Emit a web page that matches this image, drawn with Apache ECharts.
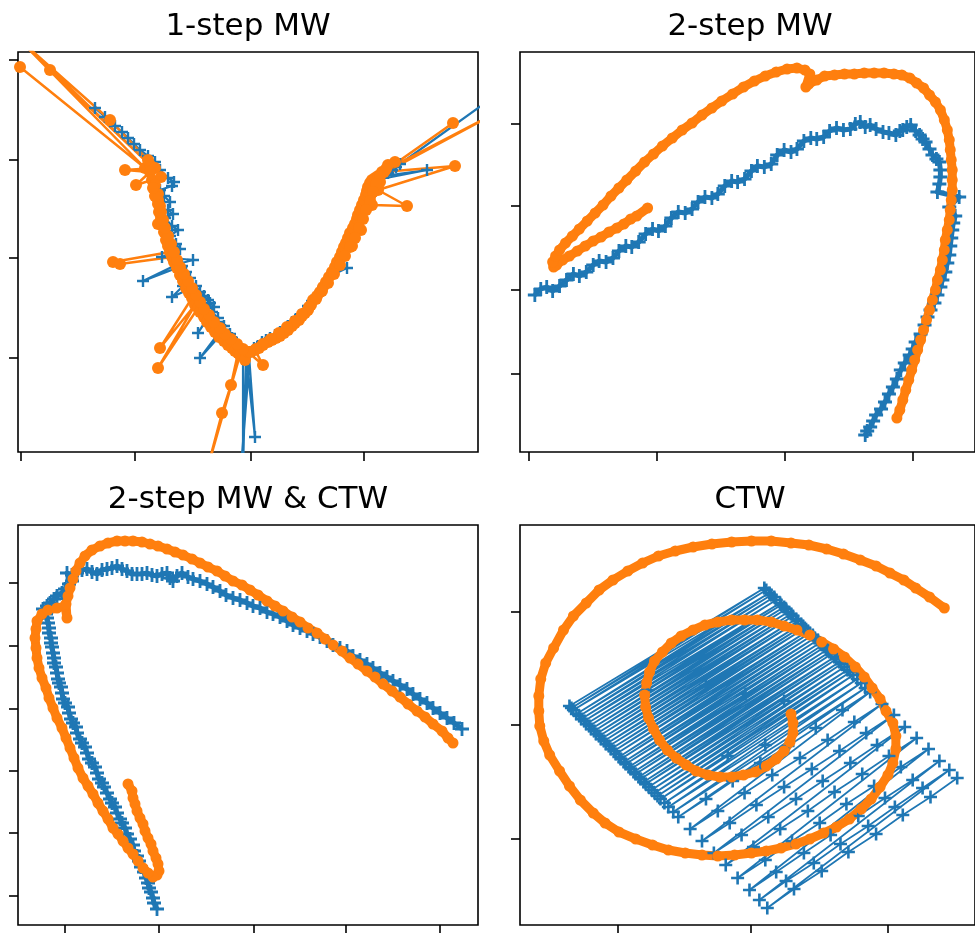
<!DOCTYPE html>
<html>
<head>
<meta charset="utf-8">
<title>MW / CTW</title>
<script src="https://cdn.jsdelivr.net/npm/echarts@6/dist/echarts.min.js"></script>
<style>
  html, body { margin: 0; padding: 0; background: #fff; }
  #main { width: 975px; height: 933px; }
</style>
</head>
<body>
<div id="main"></div>
<script>
// values, in panel units (x from the left frame, y up from the bottom frame)

// 1-step MW
var oneStepXTicks = [2.7, 117, 232.7, 346];
var oneStepYTicks = [94.3, 194.3, 292.7, 392];
var oneStepBlue = [[77,344],[87,335],[97,326],[104,320],[110,314],[116,308],[122,302],[130,296],[137,290],[142,282],[150,274],[156,270],[154,266],[142,262],[146,256],[152,250],[150,242],[155,238],[147,234],[154,226],[160,222],[152,216],[158,208],[162,203],[144,195],[175,192],[160,188],[125,171],[164,186],[168,180],[172,174],[165,166],[154,155],[178,166],[182,160],[186,156],[190,152],[192,149],[196,145],[180,119],[194,140],[200,134],[200,130],[206,126],[182,94],[207,122],[212,118],[214,114],[218,110],[220,107],[224,103],[225,100],[225,-18],[228,96],[237,15],[231,97],[223,-18],[232,100],[236,104],[240,106],[244,110],[248,112],[252,114],[257,117],[262,120],[266,122],[270,126],[274,130],[278,133],[282,137],[286,141],[290,146],[294,151],[298,156],[302,160],[305,165],[309,170],[312,176],[329,184],[318,186],[321,191],[324,196],[327,201],[330,206],[333,212],[335,218],[337,224],[339,230],[342,236],[344,242],[346,248],[348,254],[350,259],[352,264],[355,268],[358,272],[409,282],[365,276],[370,279],[374,282],[378,285],[382,288],[467,349]];
var oneStepOrange = [[2,385],[127,284],[-8,422],[132,287],[32,382],[2,412],[92,332],[130,292],[137,284],[107,282],[132,280],[118,267],[134,272],[143,275],[137,267],[140,258],[140,252],[142,246],[141,240],[143,234],[140,228],[144,227],[146,220],[148,212],[150,206],[152,200],[95,190],[102,188],[154,195],[156,190],[159,184],[162,177],[165,171],[168,164],[171,159],[174,154],[142,104],[177,147],[140,84],[180,144],[182,140],[186,135],[189,130],[193,125],[197,120],[201,115],[206,111],[210,107],[214,104],[217,101],[220,99],[213,67],[204,39],[189,-18],[222,97],[227,92],[230,100],[245,87],[237,102],[241,104],[245,107],[250,110],[254,112],[258,114],[262,116],[266,119],[270,122],[274,126],[277,129],[281,132],[284,136],[287,139],[290,142],[293,147],[295,152],[299,156],[302,160],[305,165],[308,170],[311,175],[314,180],[317,185],[319,190],[322,195],[324,200],[326,205],[328,209],[334,206],[330,214],[332,219],[335,224],[343,222],[337,228],[339,233],[340,237],[342,242],[349,245],[344,247],[346,252],[348,257],[349,261],[350,265],[352,269],[354,272],[435,329],[357,274],[467,333],[360,276],[472,336],[364,280],[437,286],[360,262],[389,246],[354,247],[362,270],[366,280],[370,287],[377,290],
  [368,283],[362,276],[358,268],[355,260],[352,251],[348,242],[345,233],[341,224],[337,214],[332,205],[327,196],[322,187],[316,178],[310,169],[304,161],[298,153],[291,145],[284,138],[277,131],[269,125],[261,119],[253,113],[245,108],[238,103],[232,100],[225,103],[219,108],[213,113],[207,118],[202,124],[196,130],[191,137],[186,143],[182,150],[178,157],[174,164],[170,171],[166,178],[162,185],[159,192],[156,200],[153,208],[150,216],[147,224],[145,232],[143,240],[140,248],[137,256],[135,264]];

// 2-step MW
var twoStepXTicks = [9.3, 138.7, 268, 397];
var twoStepYTicks = [78.7, 162, 246, 328.7];
var twoStepBlue = [[15,157],[21,163],[27,165],[33,161],[40,166],[47,172],[54,178],[60,176],[67,180],[74,187],[80,191],[87,190],[94,194],[100,201],[107,206],[113,205],[120,210],[127,218],[134,223],[140,221],[147,226],[153,234],[160,240],[167,239],[174,243],[180,250],[187,255],[194,254],[200,258],[207,266],[214,271],[220,270],[227,273],[234,281],[240,286],[247,285],[254,288],[260,297],[267,302],[274,300],[280,303],[287,311],[294,314],[300,313],[307,315],[313,321],[320,324],[327,322],[334,323],[339,328],[344,330],[349,325],[354,327],[360,323],[367,320],[373,319],[380,317],[384,321],[387,322],[391,325],[395,327],[400,321],[404,317],[407,313],[410,310],[414,303],[417,297],[421,293],[424,290],[425,282],[425,275],[424,268],[422,260],[444,255],[434,245],[440,236],[438,229],[437,222],[436,214],[435,206],[434,197],[432,189],[430,180],[427,172],[425,165],[422,157],[419,149],[415,142],[412,135],[409,127],[405,118],[400,110],[397,103],[394,97],[389,89],[385,82],[381,73],[377,65],[373,58],[369,50],[365,43],[360,37],[357,31],[354,25],[351,21],[349,17]];
var twoStepOrange = [[129,244],[118,236],[112,233],[105,228],[98,224],[90,220],[82,215],[74,211],[66,206],[58,201],[50,196],[43,192],[37,187],[34,185],[33,190],[36,196],[40,202],[46,209],[53,216],[60,223],[68,231],[76,239],[84,247],[92,256],[100,264],[108,272],[117,281],[126,290],[135,298],[144,306],[154,314],[164,322],[174,329],[184,337],[194,344],[204,351],[215,358],[226,365],[237,371],[248,376],[259,380],[270,383],[280,384],[288,382],[293,378],[289,365],[292,368],[300,372],[308,376],[318,377],[328,378],[338,378],[348,379],[358,379],[368,379],[378,378],[386,377],[394,374],[401,369],[408,364],[414,357],[420,350],[425,342],[429,332],[432,322],[434,312],[435,302],[436,292],[437,282],[437,272],[437,262],[436,252],[435,242],[434,232],[432,222],[430,212],[429,202],[427,192],[425,182],[422,172],[420,162],[417,152],[414,142],[411,132],[408,122],[405,112],[402,102],[399,92],[396,82],[393,72],[390,62],[387,52],[384,42],[381,34]];

// 2-step MW & CTW
var comboXTicks = [46.3, 140.3, 235.3, 327.7, 421.3];
var comboYTicks = [29, 92.3, 154, 216.7, 279, 342.3];
var comboBlue = [[139,16],[136,22],[135,27],[133,33],[131,37],[130,42],[128,47],[126,53],[123,58],[121,64],[119,69],[116,74],[115,80],[112,86],[109,91],[107,97],[104,102],[102,106],[99,112],[97,118],[94,122],[92,126],[89,132],[86,138],[84,142],[81,146],[79,152],[77,158],[74,162],[71,166],[69,172],[67,178],[64,182],[62,186],[59,192],[58,198],[55,202],[53,206],[51,212],[50,218],[47,222],[45,226],[44,232],[43,238],[41,242],[40,246],[39,252],[38,258],[36,262],[36,267],[35,272],[34,278],[33,282],[33,287],[31,292],[31,297],[30,302],[29,307],[28,311],[25,316],[29,319],[32,322],[36,326],[39,329],[44,332],[47,336],[51,341],[54,344],[49,352],[54,350],[59,352],[64,355],[69,356],[74,353],[79,351],[84,355],[89,356],[94,357],[99,359],[104,356],[109,354],[114,351],[119,351],[124,351],[129,352],[134,350],[139,349],[144,351],[149,352],[152,347],[155,344],[159,349],[164,352],[170,348],[175,346],[182,344],[189,341],[195,338],[202,334],[208,330],[215,327],[222,325],[229,322],[235,319],[242,317],[249,313],[255,311],[262,308],[269,304],[275,300],[282,297],[289,294],[295,291],[302,288],[309,284],[315,280],[322,277],[329,274],[335,269],[342,265],[349,261],[355,257],[362,252],[369,248],[375,244],[382,240],[389,236],[395,231],[402,226],[409,222],[415,217],[422,212],[429,207],[436,202],[444,196]];
var comboOrange = [[110,141],[114,134],[115,127],[117,121],[119,114],[122,107],[125,101],[127,94],[130,87],[133,81],[135,74],[138,67],[140,61],[141,54],[139,50],[135,48],[130,52],[125,57],[120,64],[115,71],[110,77],[105,84],[100,91],[95,97],[90,106],[85,114],[80,122],[75,131],[70,139],[65,147],[60,157],[56,167],[52,177],[48,187],[44,197],[39,207],[35,217],[31,227],[28,237],[24,247],[21,257],[19,267],[18,277],[17,287],[18,296],[19,304],[24,311],[30,315],[39,317],[47,319],[49,307],[48,321],[50,329],[52,337],[55,346],[58,354],[62,362],[67,369],[74,375],[82,379],[90,382],[99,384],[107,384],[115,384],[124,383],[132,381],[140,379],[149,376],[157,373],[165,370],[174,366],[182,362],[190,358],[199,354],[207,349],[215,344],[224,340],[232,335],[240,330],[249,324],[257,319],[265,314],[274,308],[282,303],[290,297],[299,292],[307,286],[315,280],[324,274],[332,267],[340,261],[349,254],[357,248],[365,241],[374,234],[382,228],[390,221],[399,214],[407,208],[415,201],[424,194],[430,187],[435,182]];

// CTW
var ctwXTicks = [98.7, 233.7, 371.3];
var ctwYTicks = [86.3, 200, 313.3];
var ctwBlue = [[50,219],[247,337],[52,217],[249,335],[54,215],[252,332],[57,211],[254,330],[60,209],[257,328],[62,206],[259,325],[65,204],[263,322],[67,201],[264,320],[70,199],[129,235],[267,318],[72,196],[269,316],[75,194],[271,313],[77,191],[274,311],[80,189],[276,309],[82,186],[279,306],[85,184],[281,304],[87,181],[284,301],[90,179],[188,239],[286,299],[92,176],[288,297],[95,174],[291,294],[97,171],[293,292],[100,168],[296,290],[102,166],[298,287],[105,163],[301,285],[107,161],[303,282],[110,158],[228,231],[306,280],[112,156],[308,278],[115,153],[310,275],[117,151],[313,273],[120,148],[315,271],[122,146],[318,268],[125,143],[320,266],[127,141],[323,263],[130,138],[267,224],[325,261],[133,135],[328,258],[136,132],[331,255],[139,129],[334,253],[142,126],[210,169],[337,250],[146,122],[341,246],[150,118],[248,180],[345,242],[155,113],[349,237],
  [160,108],[188,126],[215,144],[243,162],[271,179],[299,197],[326,215],[354,233],
  [172,96],[200,114],[227,132],[255,150],[283,167],[311,185],[338,203],[366,221],
  [184,84],[212,102],[239,120],[267,138],[295,156],[323,174],[350,192],[378,210],
  [196,72],[224,90],[251,108],[279,126],[306,144],[334,162],[361,180],[389,198],
  [208,60],[236,78],[263,96],[291,114],[318,133],[346,151],[373,169],[401,187],
  [220,47],[248,65],[275,84],[303,102],[330,121],[358,139],[385,158],[413,176],
  [232,35],[259,53],[287,72],[314,90],[342,109],[369,127],[397,145],[424,164],
  [242,25],[269,44],[297,62],[324,81],[352,99],[379,118],[407,137],[434,155],
  [250,17],[277,36],[305,54],[332,73],[360,91],[387,110],[415,128],[442,147]];
var ctwOrange = [[274,211],[276,202],[276,192],[273,183],[267,174],[259,166],[249,159],[238,153],[226,150],[214,148],[202,148],[190,150],[178,154],[168,160],[158,167],[149,175],[141,185],[135,196],[130,207],[127,218],[126,230],[128,242],[131,253],[136,264],[144,273],[153,282],[163,289],[175,295],[187,300],[200,303],[214,305],[227,305],[240,305],[254,303],[267,299],[280,295],[293,290],[305,283],[317,276],[328,268],[339,258],[348,248],[356,237],[364,226],[370,214],[377,202],[380,189],[380,176],[377,162],[372,150],[364,138],[355,126],[345,116],[333,106],[320,98],[307,92],[293,86],[279,81],[264,77],[249,74],[234,72],[217,70],[200,69],[184,70],[167,72],[150,75],[134,80],[117,86],[100,93],[86,102],[74,112],[61,125],[50,139],[40,154],[30,170],[24,184],[20,199],[19,214],[19,229],[21,246],[26,262],[34,277],[44,295],[54,309],[67,322],[80,335],[94,345],[109,354],[124,362],[140,369],[157,374],[175,378],[194,381],[214,383],[234,384],[254,384],[274,382],[292,380],[310,376],[327,371],[344,365],[360,359],[374,352],[388,345],[400,337],[414,328],[429,317]];

var plusMark = 'path://M-1,-0.2L1,-0.2L1,0.2L-1,0.2ZM-0.2,-1L0.2,-1L0.2,1L-0.2,1Z';

var panels = [
  {title: '1-step MW', left: 18, top: 52, xt: oneStepXTicks, yt: oneStepYTicks, blue: oneStepBlue, orange: oneStepOrange, bw: 2.2, ow: 2.5, bs: 12, os: 12},
  {title: '2-step MW', left: 520, top: 52, xt: twoStepXTicks, yt: twoStepYTicks, blue: twoStepBlue, orange: twoStepOrange, bw: 5, ow: 9, bs: 14, os: 11},
  {title: '2-step MW & CTW', left: 18, top: 525, xt: comboXTicks, yt: comboYTicks, blue: comboBlue, orange: comboOrange, bw: 5, ow: 9, bs: 14, os: 11},
  {title: 'CTW', left: 520, top: 525, xt: ctwXTicks, yt: ctwYTicks, blue: ctwBlue, orange: ctwOrange, bw: 1.7, ow: 9, bs: 13, os: 11}
];

var grids = [], xAxes = [], yAxes = [], series = [], titles = [];
panels.forEach(function (p, i) {
  titles.push({
    text: p.title, left: p.left + 230, top: p.top - 41, textAlign: 'center', padding: 0,
    textStyle: {fontFamily: 'DejaVu Sans', fontSize: 31, fontWeight: 'normal', color: '#000'}
  });
  grids.push({left: p.left, top: p.top, width: 460, height: 400, show: true,
    borderColor: '#000', borderWidth: 1.6, backgroundColor: '#fff'});
  var tick = {show: true, length: 9, lineStyle: {color: '#000', width: 1.6}};
  xAxes.push({type: 'value', gridIndex: i, min: 0, max: 460,
    axisLine: {show: false, onZero: false}, splitLine: {show: false}, axisLabel: {show: false},
    axisTick: Object.assign({customValues: p.xt}, tick)});
  yAxes.push({type: 'value', gridIndex: i, min: 0, max: 400,
    axisLine: {show: false, onZero: false}, splitLine: {show: false}, axisLabel: {show: false},
    axisTick: Object.assign({customValues: p.yt}, tick)});
  series.push({
    type: 'line', xAxisIndex: i, yAxisIndex: i, data: p.blue,
    symbol: plusMark, symbolSize: p.bs, clip: true, silent: true,
    lineStyle: {color: '#1f77b4', width: p.bw, join: 'round'},
    itemStyle: {color: '#1f77b4'}, emphasis: {disabled: true}
  });
  series.push({
    type: 'line', xAxisIndex: i, yAxisIndex: i, data: p.orange,
    symbol: 'circle', symbolSize: p.os, clip: true, silent: true,
    lineStyle: {color: '#ff7f0e', width: p.ow, cap: 'round', join: 'round'},
    itemStyle: {color: '#ff7f0e'}, emphasis: {disabled: true}
  });
});

var chart = echarts.init(document.getElementById('main'), null, {renderer: 'canvas'});
chart.setOption({
  animation: false,
  backgroundColor: '#fff',
  title: titles,
  grid: grids,
  xAxis: xAxes,
  yAxis: yAxes,
  series: series
});
</script>
</body>
</html>
